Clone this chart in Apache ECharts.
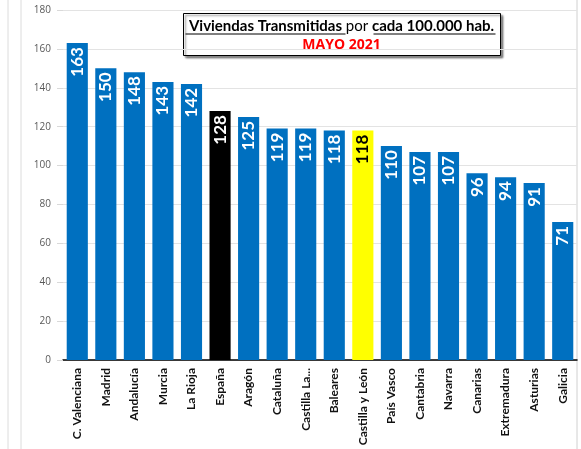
<!DOCTYPE html>
<html>
<head>
<meta charset="utf-8">
<script src="https://cdn.jsdelivr.net/npm/echarts@6/dist/echarts.min.js"></script>
<style>
  html, body { margin: 0; padding: 0; background: #fff; }
  #chart { width: 581px; height: 449px; }
</style>
</head>
<body>
<div id="chart"></div>
<script>
// datos
var regiones = ['C. Valenciana', 'Madrid', 'Andalucía', 'Murcia', 'La Rioja', 'España', 'Aragón', 'Cataluña',
  'Castilla La...', 'Baleares', 'Castilla y León', 'País Vasco', 'Cantabria', 'Navarra', 'Canarias',
  'Extremadura', 'Asturias', 'Galicia']
var valores = [163, 150, 148, 143, 142, 128, 125, 119, 119, 118, 118, 110, 107, 107, 96, 94, 91, 71]
var yTicks = [0, 20, 40, 60, 80, 100, 120, 140, 160, 180]

var colorBase = '#0070C0'
var colores = { 'España': '#000000', 'Castilla y León': '#FFFF00' }
var fuente = 'Lato'

var myChart = echarts.init(document.getElementById('chart'))

var barData = regiones.map(function (r, i) {
  var c = colores[r] || colorBase
  return {
    value: valores[i],
    itemStyle: { color: c },
    label: { color: c === '#FFFF00' ? '#000' : '#fff' }
  }
})

myChart.setOption({
  animation: false,
  grid: { left: 63, right: 4, top: 10, bottom: 89 },
  xAxis: {
    type: 'category',
    data: regiones,
    axisLine: { lineStyle: { color: '#000', width: 1.5 } },
    axisTick: { show: false },
    axisLabel: {
      rotate: 90,
      interval: 0,
      fontSize: 12,
      fontWeight: 'bold',
      fontFamily: fuente,
      color: '#111',
      margin: 8
    }
  },
  yAxis: {
    type: 'value',
    min: yTicks[0],
    max: yTicks[yTicks.length - 1],
    interval: 20,
    axisLine: { show: false },
    axisTick: { show: true, length: 6, lineStyle: { color: '#d9d9d9' } },
    axisLabel: { fontSize: 10, color: '#595959', fontFamily: 'Open Sans', margin: 12 },
    splitLine: { lineStyle: { color: '#e3e3e3' } }
  },
  series: [
    {
      type: 'bar',
      data: barData,
      barCategoryGap: '26%',
      label: {
        show: true,
        position: 'insideTop',
        rotate: 90,
        align: 'right',
        verticalAlign: 'middle',
        distance: 4,
        fontSize: 17,
        fontWeight: 'bold',
        fontFamily: fuente
      }
    }
  ],
  graphic: [
    { type: 'line', shape: { x1: 8, y1: 0, x2: 8, y2: 449 }, style: { stroke: '#dcdcdc', lineWidth: 1 } },
    { type: 'line', shape: { x1: 21, y1: 0, x2: 21, y2: 449 }, style: { stroke: '#dcdcdc', lineWidth: 1 } },
    { type: 'line', shape: { x1: 577, y1: 0, x2: 577, y2: 449 }, style: { stroke: '#d0d0d0', lineWidth: 1 } },
    {
      type: 'group',
      left: 183,
      top: 13,
      children: [
        {
          type: 'rect',
          shape: { x: 0, y: 0, width: 317, height: 42 },
          style: { fill: '#fff', stroke: '#000', lineWidth: 1, shadowColor: 'rgba(0,0,0,0.45)', shadowOffsetX: 2, shadowOffsetY: 2, shadowBlur: 2 }
        },
        {
          type: 'text',
          x: 158,
          y: 13,
          style: {
            text: '{b|Viviendas Transmitidas }{n|por }{b|cada 100.000 hab.}',
            align: 'center',
            verticalAlign: 'middle',
            rich: {
              b: { fontSize: 15, fontWeight: 'bold', fontFamily: fuente, fill: '#000' },
              n: { fontSize: 15, fontFamily: fuente, fill: '#000' }
            }
          }
        },
        { type: 'line', shape: { x1: 2, y1: 20.5, x2: 162, y2: 20.5 }, style: { stroke: '#000', lineWidth: 1 } },
        { type: 'line', shape: { x1: 190, y1: 20.5, x2: 312, y2: 20.5 }, style: { stroke: '#000', lineWidth: 1 } },
        {
          type: 'text',
          x: 158,
          y: 32,
          style: {
            text: 'MAYO 2021',
            align: 'center',
            verticalAlign: 'middle',
            fontSize: 14,
            fontWeight: 'bold',
            fontFamily: 'Open Sans',
            fill: '#FF0000'
          }
        }
      ]
    }
  ]
})
</script>
</body>
</html>
